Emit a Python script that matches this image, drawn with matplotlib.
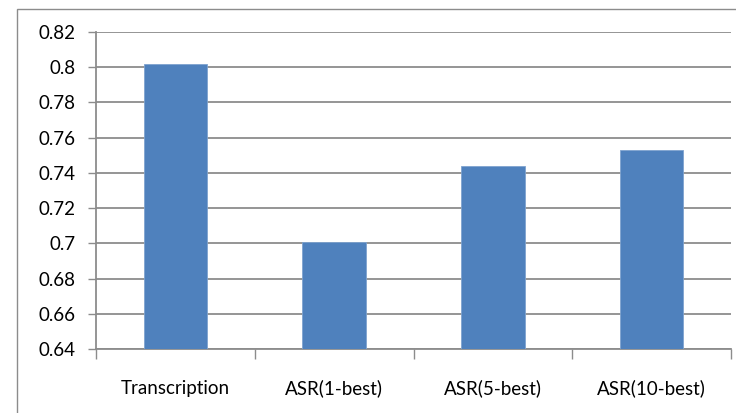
import matplotlib.pyplot as plt
from matplotlib.patches import Rectangle
import numpy as np

plt.rcParams['font.family'] = ['Lato', 'DejaVu Sans']

categories = ["Transcription", "ASR(1-best)", "ASR(5-best)", "ASR(10-best)"]
scores = [0.802, 0.701, 0.744, 0.753]
y_ticks = [0.64, 0.66, 0.68, 0.70, 0.72, 0.74, 0.76, 0.78, 0.80, 0.82]
y_labels = ["0.64", "0.66", "0.68", "0.7", "0.72", "0.74", "0.76", "0.78", "0.8", "0.82"]

W, H = 736, 413
fig = plt.figure(figsize=(W / 100, H / 100), dpi=100)
ax = fig.add_axes([96 / W, 1 - 349 / H, (731 - 96) / W, (349 - 32) / H])

grid_c = "#8c8c8c"

# chart border, cut by the right and bottom edges
fig.patches.append(Rectangle((17 / W, -0.1), 1.0, 1 - 9 / H + 0.1,
                             transform=fig.transFigure, fill=False,
                             edgecolor=grid_c, linewidth=1.0))

x = np.arange(len(categories))
ax.bar(x, scores, width=0.4, color="#4F81BD", edgecolor="#7FA3CF",
       linewidth=0.6, zorder=3)

ax.set_xlim(-0.5, len(categories) - 0.5)
ax.set_ylim(0.64, 0.82)

ax.set_yticks(y_ticks)
ax.set_yticklabels(y_labels)
ax.yaxis.grid(True, color=grid_c, linewidth=1.3, zorder=0)
ax.tick_params(axis="y", length=6, width=1.0, color=grid_c, pad=8.5,
               labelsize=13.5, labelcolor="black")

ax.set_xticks(x)
ax.set_xticklabels(categories)
ax.set_xticks(np.arange(len(categories) + 1) - 0.5, minor=True)
ax.tick_params(axis="x", which="major", length=0, pad=22, labelsize=13.5)
ax.tick_params(axis="x", which="minor", length=7, width=1.0, color=grid_c)

for side in ["top", "right"]:
    ax.spines[side].set_visible(False)
for side in ["left", "bottom"]:
    ax.spines[side].set_color(grid_c)
    ax.spines[side].set_linewidth(1.3)

fig.savefig("out.png", dpi=100)
